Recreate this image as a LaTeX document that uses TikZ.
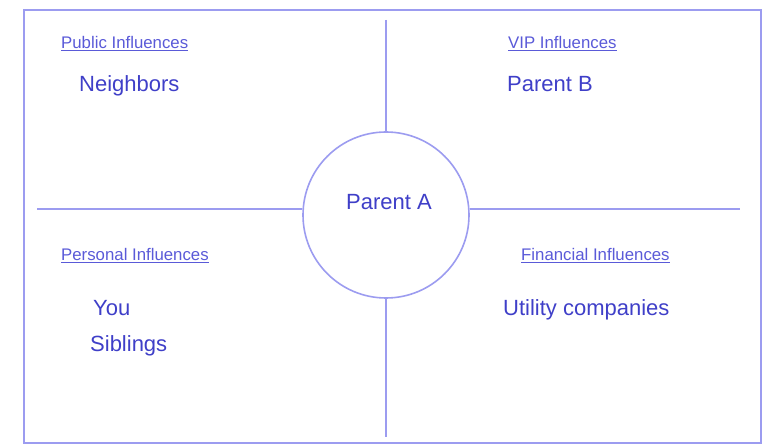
\documentclass[tikz,border=0pt]{standalone}
\usepackage{fontspec}
\setmainfont{Liberation Sans}
\definecolor{linec}{HTML}{9C9CF0}
\definecolor{textc}{HTML}{3F3FC8}
\definecolor{labc}{HTML}{5A5AD8}
\tikzset{
  frame/.style={draw=linec, line width=1.6pt},
  divider/.style={draw=linec, line width=1.6pt},
  maintext/.style={text=textc, font=\fontsize{22}{26}\selectfont, inner sep=0pt, anchor=base west},
  labtext/.style={text=labc, font=\fontsize{16.8}{20}\selectfont, inner sep=0pt, anchor=base west},
  hub/.style={circle, draw=linec, line width=1.6pt, minimum size=166pt, inner sep=0pt, fill=white}
}
\newcommand{\ulab}[1]{\underline{#1}}
\begin{document}
\begin{tikzpicture}[x=1pt,y=-1pt]
\useasboundingbox (0,0) rectangle (772,446);
\draw[frame] (24,10) rectangle (761,443);
% circle
\node[hub] (pa) at (386,215) {};
% dividers
\coordinate (vt) at (386,20);
\coordinate (vb) at (386,437);
\coordinate (hl) at (37,209);
\coordinate (hr) at (740,209);
\draw[divider] (vt) -- (pa.north);
\draw[divider] (pa.south) -- (vb);
\draw[divider] (hl) -- (pa.west |- hl);
\draw[divider] (pa.east |- hr) -- (hr);
\node[maintext] (pat) at (346,210) {Parent A};
% labels
\node[labtext] (l1) at (61,49) {\ulab{Public Influences}};
\node[labtext] (l2) at (508,49) {\ulab{VIP Influences}};
\node[labtext] (l3) at (61,261) {\ulab{Personal Influences}};
\node[labtext] (l4) at (521,261) {\ulab{Financial Influences}};
% contents
\node[maintext] (n1) at (79,92) {Neighbors};
\node[maintext] (n2) at (507,92) {Parent B};
\node[maintext] (n3) at (93,316) {You};
\node[maintext] (n4) at (90,352) {Siblings};
\node[maintext] (n5) at (503,316) {Utility companies};
\end{tikzpicture}
\end{document}
